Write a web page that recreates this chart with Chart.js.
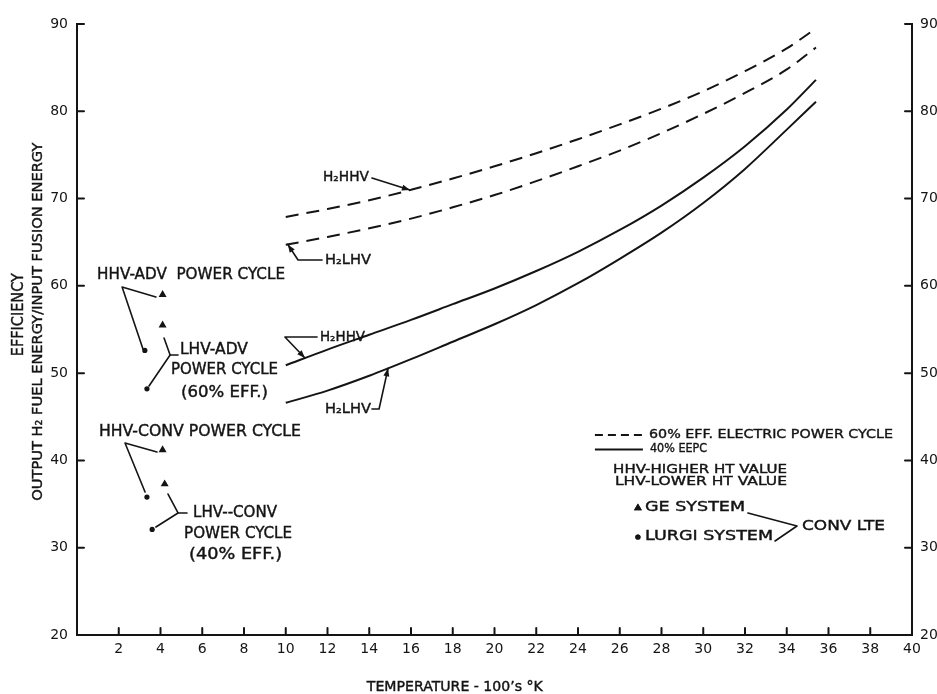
<!DOCTYPE html>
<html>
<head>
<meta charset="utf-8">
<script src="https://cdn.jsdelivr.net/npm/chart.js@4.4.1/dist/chart.umd.min.js"></script>
<style>
  html, body { margin: 0; padding: 0; background: #fff; }
  #wrap { width: 937px; height: 694px; }
</style>
</head>
<body>
<div id="wrap"><canvas id="chart" width="937" height="694"></canvas></div>
<script>
// Temperature in hundreds of kelvin
const temperature = [10, 12, 14, 16, 18, 20, 22, 24, 26, 28, 30, 32, 34, 35.4];

// Efficiency (%) = output H2 fuel energy / input fusion energy
const hhv60 = [67.9, 68.8, 69.8, 71.0, 72.3, 73.7, 75.2, 76.8, 78.5, 80.3, 82.3, 84.6, 87.2, 89.5];
const lhv60 = [64.7, 65.6, 66.6, 67.7, 69.0, 70.4, 72.0, 73.7, 75.5, 77.5, 79.7, 82.1, 84.8, 87.3];
const hhv40 = [50.9, 52.7, 54.4, 56.1, 57.9, 59.7, 61.7, 63.9, 66.4, 69.2, 72.4, 76.0, 80.2, 83.6];
const lhv40 = [46.6, 48.0, 49.7, 51.6, 53.6, 55.6, 57.8, 60.3, 63.1, 66.1, 69.5, 73.4, 77.9, 81.1];

// Conventional low-temperature electrolysis systems
const geTemp = [4.1, 4.1, 4.1, 4.2];
const geEff = [59.0, 55.5, 41.2, 37.3];
const lurgiTemp = [3.25, 3.35, 3.35, 3.6];
const lurgiEff = [52.6, 48.2, 35.8, 32.1];

// Axis tick labels
const xTicks = [2, 4, 6, 8, 10, 12, 14, 16, 18, 20, 22, 24, 26, 28, 30, 32, 34, 36, 38, 40];
const yTicks = [20, 30, 40, 50, 60, 70, 80, 90];

const INK = '#141414';
const FONT = '"DejaVu Sans", "Liberation Sans", sans-serif';

const pairs = (xs, ys) => xs.map((x, i) => ({ x, y: ys[i] }));

// Linear lookup along a curve, used to land the pointer arrows on it
function curveAt(ys, t) {
  for (let i = 0; i < temperature.length - 1; i++) {
    const a = temperature[i], b = temperature[i + 1];
    if (t >= a && t <= b) return ys[i] + (ys[i + 1] - ys[i]) * (t - a) / (b - a);
  }
  return ys[ys.length - 1];
}

// Lettering placed in data units: left edge, vertical centre, lettered width
const notes = [
  { text: 'HHV-ADV  POWER CYCLE', x: 0.96, y: 61.24, w: 188, size: 15 },
  { text: 'LHV-ADV', x: 4.93, y: 52.65, w: 68, size: 15 },
  { text: 'POWER CYCLE', x: 4.50, y: 50.36, w: 107, size: 15 },
  { text: '(60% EFF.)', x: 4.98, y: 47.72, w: 87, size: 15 },
  { text: 'HHV-CONV POWER CYCLE', x: 1.05, y: 43.26, w: 202, size: 15 },
  { text: 'LHV--CONV', x: 5.56, y: 33.98, w: 84, size: 15 },
  { text: 'POWER CYCLE', x: 5.13, y: 31.57, w: 108, size: 15 },
  { text: '(40% EFF.)', x: 5.37, y: 29.17, w: 93, size: 15 },
  { text: 'H\u2082HHV', x: 11.78, y: 72.47, w: 46, size: 13.5 },
  { text: 'H\u2082LHV', x: 11.88, y: 62.85, w: 46, size: 13.5 },
  { text: 'H\u2082HHV', x: 11.64, y: 54.14, w: 45, size: 13.5 },
  { text: 'H\u2082LHV', x: 11.88, y: 45.89, w: 46, size: 13.5 },
  { text: '60% EFF. ELECTRIC POWER CYCLE', x: 27.40, y: 42.91, w: 244, size: 13 },
  { text: '40% EEPC', x: 27.45, y: 41.31, w: 57, size: 12.5 },
  { text: 'HHV-HIGHER HT VALUE', x: 25.68, y: 38.90, w: 174, size: 12.5 },
  { text: 'LHV-LOWER HT VALUE', x: 25.77, y: 37.53, w: 172, size: 12.5 },
  { text: 'GE SYSTEM', x: 27.21, y: 34.55, w: 100, size: 13.5 },
  { text: 'LURGI SYSTEM', x: 27.21, y: 31.34, w: 128, size: 13.5 },
  { text: 'CONV LTE', x: 34.73, y: 32.49, w: 83, size: 14 }
];

// Plain leader strokes, in data units
const leaders = [
  [[3.78, 58.72], [2.16, 59.87], [3.16, 52.77]],
  [[4.84, 52.08], [4.46, 52.08], [4.17, 54.03]],
  [[4.46, 52.08], [3.45, 48.53]],
  [[3.83, 40.97], [2.30, 42.00], [3.26, 36.38]],
  [[5.27, 33.98], [4.84, 33.98], [4.36, 36.15]],
  [[4.84, 33.98], [3.78, 32.37]],
  [[32.14, 33.98], [34.49, 32.49], [33.44, 30.77]]
];

// Leaders that end in an arrowhead sitting on a curve
const pointers = [
  { path: [[14.13, 72.36]], curve: hhv60, at: 15.95 },
  { path: [[11.74, 62.96], [10.59, 62.96]], curve: lhv60, at: 10.1 },
  { path: [[11.50, 54.14], [9.96, 54.14]], curve: hhv40, at: 10.92 },
  { path: [[14.13, 45.89], [14.47, 45.89]], curve: lhv40, at: 14.9 }
];

function letter(ctx, str, x, y, width, size, rot) {
  ctx.save();
  ctx.font = size + 'px ' + FONT;
  ctx.textBaseline = 'middle';
  ctx.textAlign = rot ? 'center' : 'left';
  const s = width / ctx.measureText(str).width;
  ctx.translate(x, y);
  if (rot) ctx.rotate(rot);
  ctx.scale(s, 1);
  ctx.fillStyle = INK;
  ctx.strokeStyle = INK;
  ctx.lineWidth = 0.4;
  ctx.fillText(str, 0, 0);
  ctx.strokeText(str, 0, 0);
  ctx.restore();
}

const figureNotes = {
  id: 'figureNotes',
  afterDraw(chart) {
    const { ctx, chartArea: a, scales } = chart;
    const X = v => scales.x.getPixelForValue(v);
    const Y = v => scales.y.getPixelForValue(v);
    ctx.save();
    ctx.strokeStyle = INK;
    ctx.fillStyle = INK;
    ctx.lineCap = 'round';
    ctx.lineJoin = 'round';

    // inward tick marks
    ctx.lineWidth = 2;
    ctx.beginPath();
    xTicks.forEach(v => {
      if (v >= 40) return;
      const px = X(v);
      ctx.moveTo(px, a.bottom);
      ctx.lineTo(px, a.bottom - 7);
    });
    yTicks.forEach(v => {
      if (v <= 20) return;
      const py = Y(v);
      ctx.moveTo(a.left, py);
      ctx.lineTo(a.left + 7, py);
      ctx.moveTo(a.right - 7, py);
      ctx.lineTo(a.right, py);
    });
    ctx.stroke();

    // leader strokes
    ctx.lineWidth = 1.6;
    leaders.forEach(path => {
      ctx.beginPath();
      path.forEach(([u, v], i) => (i ? ctx.lineTo(X(u), Y(v)) : ctx.moveTo(X(u), Y(v))));
      ctx.stroke();
    });

    // pointers with arrowheads
    pointers.forEach(p => {
      const tx = X(p.at), ty = Y(curveAt(p.curve, p.at));
      const pts = p.path.map(([u, v]) => [X(u), Y(v)]);
      ctx.beginPath();
      pts.forEach(([u, v], i) => (i ? ctx.lineTo(u, v) : ctx.moveTo(u, v)));
      ctx.lineTo(tx, ty);
      ctx.stroke();
      const [lx, ly] = pts[pts.length - 1];
      const ang = Math.atan2(ty - ly, tx - lx);
      const L = 8, H = 3;
      ctx.beginPath();
      ctx.moveTo(tx, ty);
      ctx.lineTo(tx - L * Math.cos(ang) + H * Math.sin(ang), ty - L * Math.sin(ang) - H * Math.cos(ang));
      ctx.lineTo(tx - L * Math.cos(ang) - H * Math.sin(ang), ty - L * Math.sin(ang) + H * Math.cos(ang));
      ctx.closePath();
      ctx.fill();
    });

    // key: line samples and marker symbols
    ctx.lineWidth = 2;
    ctx.lineCap = 'butt';
    ctx.setLineDash([8, 5]);
    ctx.beginPath();
    ctx.moveTo(X(24.81), Y(42.91));
    ctx.lineTo(X(27.21), Y(42.91));
    ctx.stroke();
    ctx.setLineDash([]);
    ctx.beginPath();
    ctx.moveTo(X(24.81), Y(41.25));
    ctx.lineTo(X(27.11), Y(41.25));
    ctx.stroke();
    Chart.helpers.drawPoint(ctx, { pointStyle: 'triangle', radius: 4.6, rotation: 0, borderWidth: 0 }, X(26.87), Y(34.55));
    ctx.fill();
    Chart.helpers.drawPoint(ctx, { pointStyle: 'circle', radius: 2.6, rotation: 0, borderWidth: 0 }, X(26.87), Y(31.23));
    ctx.fill();
    ctx.restore();

    notes.forEach(n => letter(ctx, n.text, X(n.x), Y(n.y), n.w, n.size));

    // axis titles
    letter(ctx, 'EFFICIENCY', a.left - 58, Y(56.7), 83, 15, -Math.PI / 2);
    letter(ctx, 'OUTPUT H\u2082 FUEL ENERGY/INPUT FUSION ENERGY', a.left - 39, Y(55.9), 358, 14, -Math.PI / 2);
    letter(ctx, 'TEMPERATURE - 100\u2019s \u00B0K', X(18.1) - 88, a.bottom + 52, 176, 13.5);
  }
};

const tickFont = { family: FONT, size: 14 };

new Chart(document.getElementById('chart'), {
  type: 'line',
  data: {
    datasets: [
      { label: 'H2 HHV, 60% eff. electric power cycle', data: pairs(temperature, hhv60), borderDash: [13, 8] },
      { label: 'H2 LHV, 60% eff. electric power cycle', data: pairs(temperature, lhv60), borderDash: [13, 8] },
      { label: 'H2 HHV, 40% EEPC', data: pairs(temperature, hhv40) },
      { label: 'H2 LHV, 40% EEPC', data: pairs(temperature, lhv40) },
      { label: 'GE system', data: pairs(geTemp, geEff), showLine: false,
        pointStyle: 'triangle', pointRadius: 4.6, pointBackgroundColor: INK, pointBorderWidth: 0 },
      { label: 'Lurgi system', data: pairs(lurgiTemp, lurgiEff), showLine: false,
        pointStyle: 'circle', pointRadius: 2.6, pointBackgroundColor: INK, pointBorderWidth: 0 }
    ].map(d => Object.assign({
      borderColor: INK, borderWidth: 2, pointRadius: 0, fill: false,
      cubicInterpolationMode: 'monotone'
    }, d))
  },
  options: {
    responsive: false,
    animation: false,
    devicePixelRatio: 1,
    layout: { padding: { top: 24, left: 0, right: 0, bottom: 0 }, autoPadding: false },
    plugins: { legend: { display: false }, tooltip: { enabled: false } },
    scales: {
      x: {
        type: 'linear', position: 'bottom', min: 0, max: 40,
        afterBuildTicks: s => { s.ticks = xTicks.map(v => ({ value: v })); },
        afterFit: s => { s.height = 59; },
        grid: { display: false, drawTicks: false },
        border: { display: true, color: INK, width: 2 },
        ticks: { color: INK, font: tickFont, padding: 6, maxRotation: 0, autoSkip: false }
      },
      y: {
        type: 'linear', position: 'left', min: 20, max: 90,
        afterBuildTicks: s => { s.ticks = yTicks.map(v => ({ value: v })); },
        afterFit: s => { s.width = 77; },
        grid: { display: false, drawTicks: false },
        border: { display: true, color: INK, width: 2 },
        ticks: { color: INK, font: tickFont, padding: 9 }
      },
      y2: {
        type: 'linear', position: 'right', min: 20, max: 90,
        afterBuildTicks: s => { s.ticks = yTicks.map(v => ({ value: v })); },
        afterFit: s => { s.width = 25; },
        grid: { display: false, drawTicks: false },
        border: { display: true, color: INK, width: 2 },
        ticks: { color: INK, font: tickFont, padding: 8 }
      }
    }
  },
  plugins: [figureNotes]
});
</script>
</body>
</html>
